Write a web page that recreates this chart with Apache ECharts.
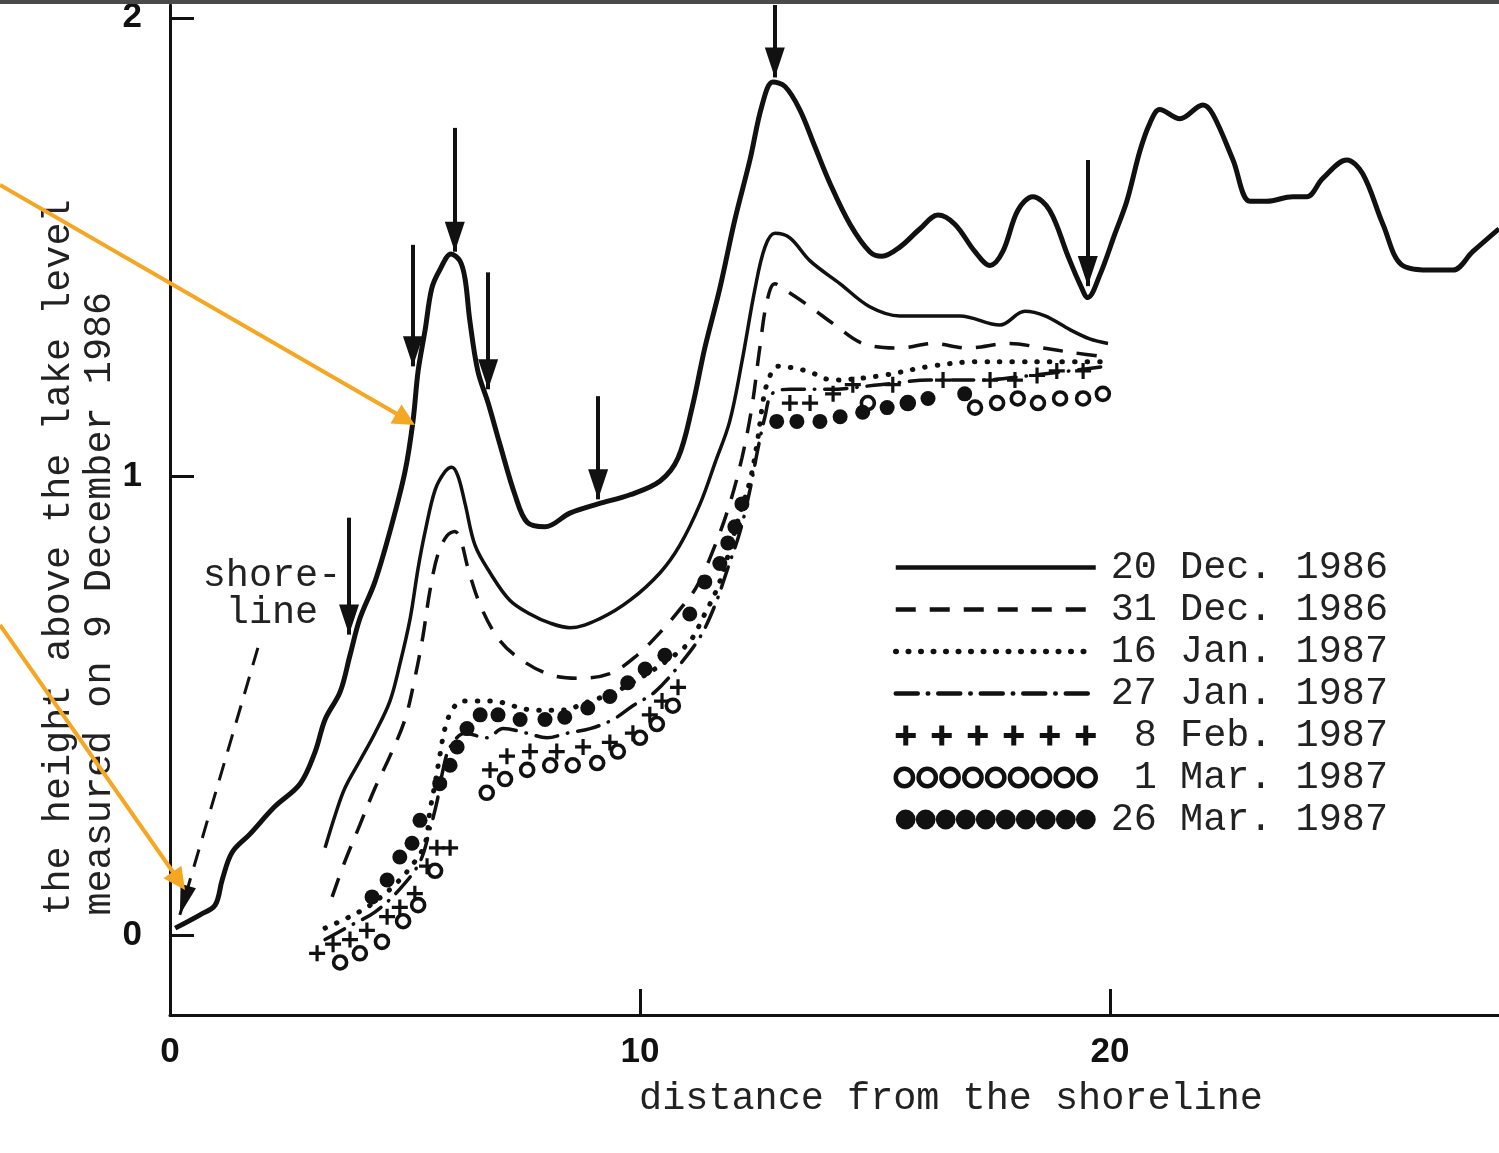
<!DOCTYPE html>
<html>
<head>
<meta charset="utf-8">
<script src="https://cdn.jsdelivr.net/npm/echarts@6/dist/echarts.min.js"></script>
<style>
html,body{margin:0;padding:0;background:#fff;}
#chart{width:1499px;height:1153px;}
</style>
</head>
<body>
<div id="chart"></div>
<script>
// ---------- data ----------
const xTicks = [0, 10, 20];
const yTicks = [0, 1, 2];

// upper profile (unlabelled thick curve)
const profile = [[0.11,0.015],[0.64,0.044],[0.96,0.065],[1.11,0.12],[1.32,0.18],[1.70,0.22],[2.23,0.28],[2.77,0.33],[3.09,0.40],[3.30,0.47],[3.62,0.53],[3.83,0.61],[4.04,0.69],[4.36,0.77],[4.68,0.88],[5.0,1.01],[5.17,1.12],[5.28,1.23],[5.43,1.32],[5.57,1.41],[5.74,1.45],[5.98,1.485],[6.17,1.47],[6.28,1.43],[6.38,1.34],[6.55,1.23],[6.77,1.16],[7.02,1.07],[7.34,0.96],[7.60,0.90],[7.98,0.89],[8.51,0.92],[9.11,0.94],[9.79,0.96],[10.43,0.99],[10.81,1.04],[11.11,1.15],[11.38,1.28],[11.70,1.41],[12.02,1.56],[12.34,1.69],[12.60,1.81],[12.83,1.86],[13.09,1.85],[13.40,1.80],[13.72,1.72],[14.04,1.64],[14.47,1.55],[14.89,1.49],[15.15,1.48],[15.53,1.50],[15.96,1.54],[16.34,1.57],[16.70,1.55],[17.13,1.49],[17.45,1.46],[17.72,1.49],[18.04,1.58],[18.36,1.61],[18.72,1.58],[19.11,1.48],[19.36,1.42],[19.53,1.39],[19.79,1.44],[20.11,1.53],[20.36,1.60],[20.64,1.71],[20.85,1.77],[21.06,1.80],[21.49,1.78],[21.98,1.81],[22.19,1.79],[22.62,1.69],[22.98,1.60],[23.34,1.60],[23.89,1.61],[24.19,1.61],[24.53,1.65],[25.04,1.69],[25.38,1.66],[25.81,1.55],[26.23,1.46],[26.87,1.45],[27.30,1.45],[27.72,1.49],[28.28,1.54]];

const dec20 = [[3.30,0.19],[3.51,0.26],[3.72,0.32],[4.04,0.38],[4.36,0.44],[4.68,0.51],[4.89,0.59],[5.11,0.69],[5.28,0.80],[5.43,0.88],[5.64,0.97],[5.85,1.01],[6.0,1.02],[6.13,1.00],[6.28,0.94],[6.49,0.85],[6.81,0.79],[7.23,0.73],[7.66,0.70],[8.09,0.68],[8.51,0.67],[9.15,0.69],[9.79,0.73],[10.43,0.79],[10.85,0.85],[11.28,0.94],[11.60,1.03],[11.91,1.12],[12.17,1.25],[12.45,1.41],[12.66,1.50],[12.87,1.53],[13.19,1.52],[13.62,1.47],[14.26,1.42],[14.89,1.37],[15.53,1.35],[16.38,1.35],[16.81,1.35],[17.66,1.33],[18.19,1.36],[18.62,1.35],[19.15,1.32],[19.57,1.30],[19.96,1.29]];

const dec31 = [[3.45,0.083],[3.72,0.16],[4.04,0.24],[4.36,0.32],[4.68,0.39],[5.0,0.47],[5.21,0.56],[5.38,0.65],[5.53,0.75],[5.70,0.83],[5.89,0.87],[6.06,0.88],[6.19,0.86],[6.34,0.80],[6.60,0.72],[6.96,0.65],[7.34,0.61],[8.02,0.57],[8.66,0.56],[9.36,0.57],[9.94,0.61],[10.43,0.66],[10.85,0.71],[11.21,0.76],[11.60,0.85],[11.91,0.94],[12.17,1.04],[12.38,1.15],[12.55,1.28],[12.70,1.38],[12.87,1.42],[13.19,1.40],[13.62,1.37],[14.15,1.33],[14.74,1.29],[15.53,1.28],[16.23,1.29],[16.96,1.28],[17.87,1.29],[18.57,1.28],[19.21,1.27],[19.94,1.26]];

const jan16 = [[3.30,0.015],[3.77,0.037],[4.26,0.065],[4.79,0.11],[5.21,0.16],[5.43,0.20],[5.53,0.27],[5.64,0.33],[5.74,0.39],[5.85,0.45],[6.0,0.49],[6.21,0.51],[6.55,0.51],[6.91,0.51],[7.28,0.50],[7.77,0.49],[8.30,0.49],[8.94,0.51],[9.47,0.53],[10.0,0.56],[10.6,0.60],[11.06,0.64],[11.38,0.70],[11.66,0.76],[11.91,0.84],[12.13,0.92],[12.34,0.99],[12.49,1.07],[12.60,1.15],[12.70,1.20],[12.94,1.24],[13.55,1.23],[14.11,1.21],[15.15,1.22],[16.17,1.24],[17.17,1.25],[17.94,1.25],[18.68,1.25],[19.85,1.25]];

const jan27 = [[3.30,-0.01],[3.83,0.02],[4.36,0.05],[4.89,0.10],[5.32,0.16],[5.53,0.23],[5.68,0.29],[5.81,0.36],[5.96,0.41],[6.28,0.44],[6.74,0.43],[7.09,0.45],[7.60,0.44],[8.02,0.43],[8.45,0.44],[8.94,0.45],[9.43,0.47],[9.85,0.50],[10.32,0.53],[10.85,0.59],[11.28,0.65],[11.60,0.72],[11.87,0.80],[12.13,0.88],[12.34,0.97],[12.51,1.06],[12.66,1.13],[12.81,1.18],[13.19,1.19],[14.04,1.19],[15.11,1.20],[16.17,1.21],[17.23,1.21],[18.30,1.22],[19.15,1.23],[19.89,1.24]];

const feb8 = [[3.13,-0.04],[3.47,-0.02],[3.83,-0.01],[4.19,0.01],[4.62,0.04],[4.89,0.06],[5.21,0.09],[5.47,0.15],[5.68,0.19],[5.96,0.19],[6.81,0.36],[7.17,0.39],[7.66,0.40],[8.23,0.40],[8.79,0.41],[9.36,0.42],[9.85,0.44],[10.21,0.48],[10.47,0.51],[10.81,0.54],[13.19,1.16],[13.62,1.16],[14.11,1.18],[14.53,1.20],[15.38,1.20],[16.45,1.21],[17.45,1.21],[17.98,1.21],[18.45,1.22],[18.87,1.23],[19.43,1.23]];

const mar1 = [[3.62,-0.06],[4.04,-0.04],[4.51,-0.015],[4.96,0.03],[5.28,0.065],[5.64,0.14],[6.74,0.31],[7.13,0.34],[7.60,0.36],[8.09,0.37],[8.57,0.37],[9.09,0.375],[9.53,0.40],[10.0,0.43],[10.36,0.46],[10.70,0.50],[14.85,1.16],[15.70,1.16],[17.13,1.15],[17.60,1.16],[18.04,1.17],[18.47,1.16],[18.94,1.17],[19.43,1.17],[19.85,1.18]];

const mar26 = [[4.30,0.083],[4.62,0.12],[4.89,0.17],[5.15,0.20],[5.32,0.25],[5.74,0.33],[5.96,0.37],[6.11,0.41],[6.32,0.45],[6.60,0.48],[6.98,0.48],[7.45,0.47],[7.98,0.47],[8.40,0.475],[8.89,0.495],[9.36,0.52],[9.74,0.55],[10.11,0.58],[10.53,0.61],[11.06,0.70],[11.38,0.77],[11.70,0.81],[11.87,0.855],[12.02,0.89],[12.17,0.94],[12.91,1.12],[13.34,1.12],[13.83,1.12],[14.26,1.13],[14.74,1.14],[15.26,1.15],[15.70,1.16],[16.13,1.17],[16.91,1.18]];

// vertical arrows: [x, yTail, yTip]
const arrows = [[6.06,1.76,1.49],[5.17,1.505,1.24],[6.77,1.445,1.19],[9.11,1.175,0.95],[3.81,0.91,0.655],[12.87,2.028,1.87],[19.53,1.69,1.415]];
// shoreline pointer: [xTail, yTail, xTip, yTip]
const shorePointer = [1.87, 0.626, 0.21, 0.044];

const names = ['20 Dec. 1986','31 Dec. 1986','16 Jan. 1987','27 Jan. 1987','8 Feb. 1987','1 Mar. 1987','26 Mar. 1987'];

// ---------- legend icon paths ----------
function plusRow(){ let p=''; for(let i=0;i<6;i++){const x=i*36; p+=`M${x+7.5},0h5v7.5h7.5v5h-7.5v7.5h-5v-7.5h-7.5v-5h7.5z`;} return 'path://'+p; }
function circleRow(n, step, r){ let p=''; for(let i=0;i<n;i++){const x=i*step; p+=`M${x},${r}a${r},${r} 0 1,0 ${2*r},0a${r},${r} 0 1,0 ${-2*r},0z`;} return 'path://'+p; }

const ink = '#111';
const mono = '"Liberation Mono", "DejaVu Sans Mono", monospace';
const hiddenSym = {opacity:0};

const arrowHead = {symbol:'triangle', symbolSize:[20,30], symbolOffset:[0,15]};
const markData = arrows.map(a => [
  {coord:[a[0], a[1]], symbol:'none'},
  Object.assign({coord:[a[0], a[2]]}, arrowHead)
]);
markData.push([
  {coord:[shorePointer[0], shorePointer[1]], symbol:'none', lineStyle:{type:[18,12], width:3}},
  Object.assign({coord:[shorePointer[2], shorePointer[3]]}, {symbol:'triangle', symbolSize:[16,30], symbolOffset:[0,15]})
]);

const chart = echarts.init(document.getElementById('chart'));
chart.setOption({
  animation: false,
  backgroundColor: '#fff',
  color: [ink],
  grid: {left:170, right:0, top:5, bottom:138, containLabel:false},
  xAxis: {
    type:'value', min:0, max:28.28,
    name:'distance from the shoreline', nameLocation:'middle', nameGap:64, nameMoveOverlap:false,
    nameTextStyle:{fontFamily:mono, fontSize:38.5, color:'#222', padding:[0,0,0,233]},
    axisLine:{show:true, onZero:false, lineStyle:{color:ink, width:3}},
    axisTick:{show:true, inside:true, length:26, lineStyle:{color:ink, width:3}, customValues:xTicks},
    axisLabel:{fontFamily:'"Liberation Sans", Arial, sans-serif', fontWeight:'bold', fontSize:35, color:ink, margin:20, customValues:xTicks},
    splitLine:{show:false}
  },
  yAxis: {
    type:'value', min:-0.1745, max:2.028,
    name:'the height above the lake level\nmeasured on 9 December 1986    ', nameLocation:'middle', nameRotate:90, nameGap:50, nameMoveOverlap:false,
    nameTextStyle:{fontFamily:mono, fontSize:38.5, lineHeight:41, color:'#222', padding:[0,95,0,0]},
    axisLine:{show:true, onZero:false, lineStyle:{color:ink, width:3}},
    axisTick:{show:true, inside:true, length:24, lineStyle:{color:ink, width:3}, customValues:yTicks},
    axisLabel:{fontFamily:'"Liberation Sans", Arial, sans-serif', fontWeight:'bold', fontSize:35, color:ink, margin:28, customValues:yTicks},
    splitLine:{show:false}
  },
  legend: {
    orient:'vertical', left:888, top:543, itemWidth:200, itemHeight:20, itemGap:3,
    selectedMode:false,
    textStyle:{fontFamily:mono, fontSize:38.5, lineHeight:38, color:'#222', padding:[0,0,0,10]},
    formatter: n => n.padStart(12, ' '),
    data:[
      {name:names[0], lineStyle:{width:4.5, color:ink}, itemStyle:hiddenSym},
      {name:names[1], lineStyle:{width:4.5, color:ink}, itemStyle:hiddenSym},
      {name:names[2], lineStyle:{width:5.5, color:ink, cap:'round'}, itemStyle:hiddenSym},
      {name:names[3], lineStyle:{width:4.5, color:ink, cap:'round'}, itemStyle:hiddenSym},
      {name:names[4], icon:plusRow(), itemStyle:{color:ink, opacity:1}},
      {name:names[5], icon:circleRow(9, 22.5, 8.5), itemStyle:{color:'#fff', borderColor:ink, borderWidth:4.5, opacity:1}},
      {name:names[6], icon:circleRow(10, 20.2, 10), itemStyle:{color:ink, opacity:1}}
    ]
  },
  series: [
    {type:'line', name:'profile', data:profile, smooth:0.35, symbol:'none', color:ink, lineStyle:{color:ink, width:5}, z:3,
     markLine:{silent:true, symbol:['none','none'], label:{show:false}, lineStyle:{color:ink, width:4, type:'solid'}, emphasis:{disabled:true}, data:markData}},
    {type:'line', name:names[0], data:dec20, smooth:0.35, symbol:'none', color:ink, lineStyle:{color:ink, width:3.5}},
    {type:'line', name:names[1], data:dec31, smooth:0.35, symbol:'none', color:ink, lineStyle:{color:ink, width:3.5, type:[20,14]}},
    {type:'line', name:names[2], data:jan16, smooth:0.35, symbol:'none', color:ink, lineStyle:{color:ink, width:5, type:[0.5,12], cap:'round'}},
    {type:'line', name:names[3], data:jan27, smooth:0.35, symbol:'none', color:ink, lineStyle:{color:ink, width:3.5, type:[22,10,0.5,10], cap:'round'}},
    {type:'scatter', name:names[4], data:feb8, symbol:'path://M4,0h2v4h4v2h-4v4h-2v-4h-4v-2h4z', symbolSize:16, itemStyle:{color:ink, opacity:1}, z:4},
    {type:'scatter', name:names[5], data:mar1, symbol:'circle', symbolSize:13, itemStyle:{color:'#fff', borderColor:ink, borderWidth:3.6, opacity:1}, z:4},
    {type:'scatter', name:names[6], data:mar26, symbol:'circle', symbolSize:15, itemStyle:{color:ink, opacity:1}, z:4}
  ],
  graphic: [
    {type:'rect', left:0, top:0, z:100, shape:{x:0, y:0, width:1499, height:4}, style:{fill:'#4a4a4a'}},
    {type:'text', x:272, y:594, z:50, style:{text:'shore-\nline', font:'38.5px "Liberation Mono", monospace', lineHeight:37, fill:'#222', align:'center', verticalAlign:'middle'}},
    {type:'line', z:100, shape:{x1:0, y1:185, x2:397, y2:414}, style:{stroke:'#F5A623', lineWidth:4}},
    {type:'polygon', z:100, shape:{points:[[415,425],[390.5,423.5],[401.5,404.5]]}, style:{fill:'#F5A623'}},
    {type:'line', z:100, shape:{x1:0, y1:625, x2:173, y2:872}, style:{stroke:'#F5A623', lineWidth:4}},
    {type:'polygon', z:100, shape:{points:[[185,890],[163.4,878.3],[181.4,865.7]]}, style:{fill:'#F5A623'}}
  ]
});
</script>
</body>
</html>
